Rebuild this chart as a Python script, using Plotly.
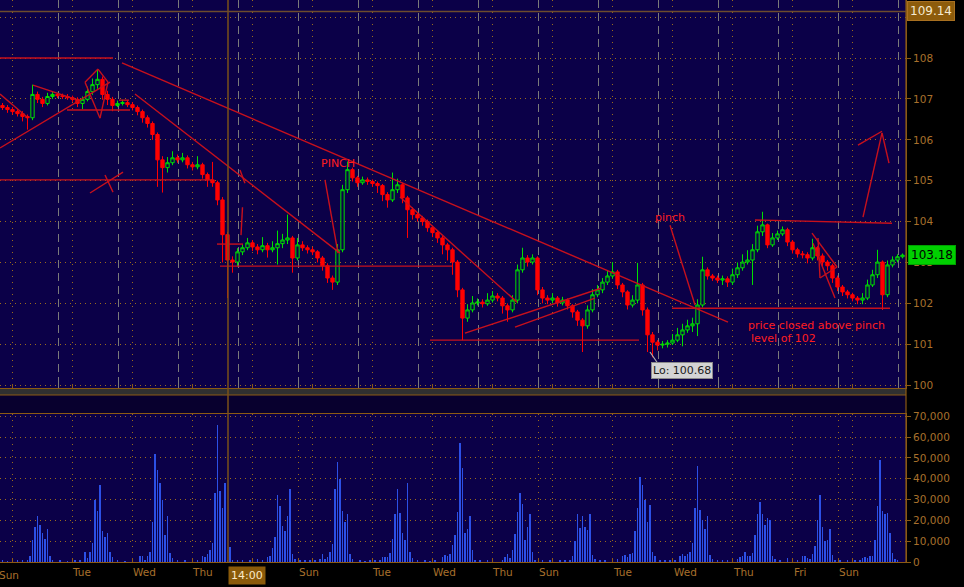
import plotly.graph_objects as go

# ---------------- data (2-hour candles, x in trading hours) ----------------
open_ = [
106.84,106.79,106.74,106.69,106.64,106.57,106.54,107.11,106.99,106.89,
107.06,107.11,107.08,107.06,107.03,106.99,106.89,106.99,107.18,107.35,
107.48,107.11,106.99,106.84,106.89,106.91,106.86,106.79,106.69,106.54,
106.40,106.13,105.51,105.32,105.44,105.56,105.51,105.56,105.39,105.34,
105.39,105.15,105.02,104.95,104.53,103.68,103.06,103.01,103.26,103.36,
103.48,103.38,103.31,103.41,103.31,103.36,103.46,103.55,103.60,103.11,
103.43,103.36,103.31,103.26,103.11,102.92,102.62,102.52,103.31,104.78,
105.27,105.07,104.95,105.02,104.98,104.93,104.88,104.66,104.53,104.78,
104.90,104.58,104.29,104.17,104.09,104.00,103.85,103.73,103.60,103.43,
103.31,103.01,102.33,101.64,101.84,102.01,102.03,101.99,102.08,102.18,
102.13,101.94,101.84,102.08,102.82,103.11,103.01,103.11,102.33,102.13,
102.08,102.13,102.01,102.08,101.94,101.79,101.59,101.45,101.84,102.21,
102.33,102.52,102.67,102.77,102.45,102.28,101.96,102.08,102.45,101.84,
101.23,101.05,100.98,101.00,101.03,101.10,101.23,101.35,101.45,101.50,
101.96,102.82,102.67,102.62,102.57,102.60,102.52,102.70,102.87,103.01,
103.06,103.31,103.75,103.92,103.43,103.60,103.70,103.80,103.50,103.31,
103.21,103.19,103.11,103.36,103.16,103.01,102.92,102.62,102.40,102.28,
102.21,102.13,102.08,102.13,102.45,102.70,103.01,102.21,102.94,103.06,
103.14]
close = [
106.79,106.74,106.69,106.64,106.57,106.54,107.11,106.99,106.89,107.06,
107.11,107.08,107.06,107.03,106.99,106.89,106.99,107.18,107.35,107.48,
107.11,106.99,106.84,106.89,106.91,106.86,106.79,106.69,106.54,106.40,
106.13,105.51,105.32,105.44,105.56,105.51,105.56,105.39,105.34,105.39,
105.15,105.02,104.95,104.53,103.68,103.06,103.01,103.26,103.36,103.48,
103.38,103.31,103.41,103.31,103.36,103.46,103.55,103.60,103.11,103.43,
103.36,103.31,103.26,103.11,102.92,102.62,102.52,103.31,104.78,105.27,
105.07,104.95,105.02,104.98,104.93,104.88,104.66,104.53,104.78,104.90,
104.58,104.29,104.17,104.09,104.00,103.85,103.73,103.60,103.43,103.31,
103.01,102.33,101.64,101.84,102.01,102.03,101.99,102.08,102.18,102.13,
101.94,101.84,102.08,102.82,103.11,103.01,103.11,102.33,102.13,102.08,
102.13,102.01,102.08,101.94,101.79,101.59,101.45,101.84,102.21,102.33,
102.52,102.67,102.77,102.45,102.28,101.96,102.08,102.45,101.84,101.23,
101.05,100.98,101.00,101.03,101.10,101.23,101.35,101.45,101.50,101.96,
102.82,102.67,102.62,102.57,102.60,102.52,102.70,102.87,103.01,103.06,
103.31,103.75,103.92,103.43,103.60,103.70,103.80,103.50,103.31,103.21,
103.19,103.11,103.36,103.16,103.01,102.92,102.62,102.40,102.28,102.21,
102.13,102.08,102.13,102.45,102.70,103.01,102.21,102.94,103.06,103.14,
103.18]
high = [
106.90,106.85,106.80,106.75,106.70,106.62,107.35,107.18,107.05,107.15,
107.18,107.15,107.13,107.12,107.08,107.04,107.06,107.30,107.50,107.72,
107.55,107.20,107.05,106.96,106.98,106.97,106.92,106.84,106.74,106.60,
106.45,106.18,105.60,105.58,105.72,105.64,105.68,105.62,105.46,105.60,
105.44,105.20,105.46,105.00,104.60,103.75,103.15,103.35,103.45,103.60,
103.55,103.45,103.62,103.48,103.52,103.78,103.70,104.17,103.65,103.60,
103.52,103.42,103.38,103.30,103.16,102.98,102.68,103.45,104.90,105.47,
105.32,105.12,105.10,105.08,105.03,104.98,104.92,104.72,105.20,105.05,
104.95,104.63,104.35,104.22,104.14,104.05,103.90,103.78,103.65,103.48,
103.36,103.06,102.38,101.98,102.18,102.12,102.10,102.25,102.30,102.25,
102.18,102.00,102.20,102.95,103.36,103.18,103.20,103.15,102.40,102.20,
102.25,102.18,102.16,102.12,101.98,101.84,101.64,101.95,102.35,102.45,
102.62,102.80,103.01,102.82,102.50,102.32,102.20,102.99,102.50,101.90,
101.30,101.10,101.08,101.10,101.25,101.40,101.50,101.60,101.65,102.10,
103.14,102.88,102.72,102.68,102.68,102.66,102.85,103.00,103.20,103.30,
103.45,103.90,104.24,103.95,103.72,103.78,103.88,103.85,103.55,103.36,
103.28,103.25,103.58,103.40,103.22,103.06,102.97,102.68,102.45,102.33,
102.26,102.18,102.25,102.58,102.82,103.31,103.05,103.05,103.15,103.20,
103.22]
low = [
106.73,106.66,106.62,106.57,106.45,106.25,106.48,106.90,106.80,106.84,
107.00,107.02,107.00,106.98,106.93,106.80,106.75,106.94,107.10,107.25,
106.98,106.85,106.70,106.80,106.84,106.80,106.72,106.60,106.42,106.30,
106.00,104.85,104.71,105.20,105.38,105.44,105.45,105.30,105.25,105.28,
105.05,104.85,104.85,104.40,103.00,102.13,102.75,102.90,103.18,103.30,
103.28,103.20,103.25,103.12,103.25,102.95,103.35,103.45,102.75,103.05,
103.28,103.22,103.18,103.00,102.80,102.50,102.33,102.45,103.25,104.70,
104.98,104.85,104.90,104.90,104.85,104.70,104.50,104.34,104.48,104.70,
104.45,103.60,104.05,104.00,103.90,103.75,103.62,103.48,103.20,103.05,
102.70,102.15,101.10,101.55,101.78,101.95,101.90,101.94,102.02,102.05,
101.75,101.55,101.78,102.00,102.75,102.90,102.95,102.20,102.00,101.98,
102.00,101.92,101.95,101.85,101.65,101.45,100.81,101.38,101.78,102.15,
102.25,102.45,102.60,102.35,102.15,101.85,101.90,102.00,101.70,100.81,
100.68,100.85,100.90,100.92,100.98,101.05,100.95,101.28,101.30,101.20,
101.90,102.58,102.55,102.50,102.45,102.40,102.45,102.62,102.80,102.95,
102.45,103.25,103.65,103.35,103.38,103.55,103.65,103.40,103.22,103.12,
103.10,102.98,103.05,103.05,102.90,102.80,102.50,102.30,102.18,102.12,
102.05,101.98,101.98,102.08,102.40,102.62,101.84,102.15,102.88,103.00,
103.10]
candle_hour = [2 * i + 1 for i in range(len(close))]

vol_hour = [
 1, 3, 5, 7, 9,
 11, 12, 13, 14, 15, 16, 17, 18, 19, 20,
 21, 24, 27, 30, 32,
 34, 35, 36, 37, 38, 39, 40, 41, 42, 43, 44, 45,
 47, 50, 53,
 56, 57, 58, 59, 60, 61, 62, 63, 64, 65, 66, 67, 68, 69,
 71, 74, 77, 79,
 81, 82, 83, 84, 85, 86, 87, 88, 89, 90, 91, 92, 93,
 95, 97, 100, 103, 105,
 107, 108, 109, 110, 111, 112, 113, 114, 115, 116, 117, 118,
 120, 122, 124, 126,
 128, 129, 130, 131, 132, 133, 134, 135, 136, 137, 138, 139, 140, 141,
 144, 146, 148, 150,
 152, 153, 154, 155, 156, 157, 158, 159, 160, 161, 162, 163, 164, 165,
 167, 170, 172, 174,
 177, 178, 179, 180, 181, 182, 183, 184, 185, 186, 187, 188, 189, 190,
 192, 195, 197,
 201, 202, 203, 204, 205, 206, 207, 208, 209, 210, 211, 212, 213, 214,
 217, 220, 224, 226,
 228, 229, 230, 231, 232, 233, 234, 235, 236, 237, 238,
 240, 242,
 245, 247, 249, 250, 251, 252, 253, 254, 255, 256, 257, 258, 259, 260, 261, 262,
 264, 266, 268, 270,
 272, 273, 274, 275, 276, 277, 278, 279, 280, 281, 282, 283, 284, 285,
 287, 289, 291, 293,
 295, 296, 297, 298, 299, 300, 301, 302, 303, 304, 305, 306, 307, 308, 309, 310,
 312, 315, 317, 319,
 321, 322, 323, 324, 325, 326, 327, 328, 329, 330, 331, 332, 333, 334,
 336, 339, 342, 344,
 345, 346, 347, 348, 349, 350, 351, 352, 353, 354, 355, 356, 357, 358, 359]
vol_k = [
 0.6, 0.4, 0.8, 0.5, 0.7,
 1, 3, 10.6, 17, 22, 18, 14, 11, 16, 3,
 1, 0.5, 0.4, 0.6, 0.8,
 5, 2, 5, 9, 30, 24.6, 37, 15, 12, 14, 5, 2.5,
 0.5, 0.4, 0.5,
 3, 3, 1, 3, 5, 19, 52, 44, 38, 30, 13, 22, 4.5, 2,
 0.5, 0.6, 0.4, 1,
 3, 2.5, 3.7, 6, 9, 33, 66, 34, 26, 38, 1, 7, 1,
 0.8, 1, 0.6, 1.3, 0.5,
 2.5, 3, 6.6, 12, 32, 27, 17.5, 15, 22, 35, 4, 1.3,
 0.6, 0.8, 0.5, 0.6,
 1.3, 4, 1.5, 2.2, 5, 8.7, 35, 48, 40, 24.6, 19, 23, 4, 1.5,
 0.5, 0.4, 0.8, 0.6,
 1, 2.2, 2.4, 2.2, 4.5, 11, 23, 35, 23.5, 14, 10.5, 38, 4.7, 2,
 0.5, 0.6, 0.4, 1,
 2.2, 3.4, 3, 3.8, 8, 13, 24, 57, 45, 14, 16, 22, 6, 1,
 0.5, 0.6, 1,
 1, 2.6, 4, 2, 6, 13.5, 24, 33, 28, 10.6, 17, 23, 5, 1,
 0.8, 0.5, 1, 0.6,
 1, 3, 10, 23, 16.5, 22, 17, 15.5, 23, 3.4, 1.5,
 0.6, 1,
 1.5, 1.5, 3, 3.4, 2.6, 4, 4.5, 15, 26, 41, 37, 30, 19, 27.5, 5, 3,
 0.8, 0.5, 1, 0.6,
 3, 3.8, 3, 3.8, 5, 9, 26, 46, 25, 20, 16, 22, 3.5, 1.5,
 0.5, 1, 0.6, 0.8,
 1.5, 2.6, 3, 4.7, 3, 3, 4.5, 13, 23, 29, 23, 18, 21, 20, 3, 1.5,
 0.6, 2, 1.5, 1,
 3, 3, 1.8, 1.3, 4, 7.7, 20, 32, 17, 10, 10.6, 16, 3.4, 1,
 0.5, 1, 0.6, 0.8,
 2, 2.3, 2, 3, 3, 10.5, 27, 49, 24.6, 23, 23.6, 14, 4.5, 1.5, 0.5]
volume = [v * 1000 for v in vol_k]

day_labels = ["Tue", "Wed", "Thu", "Sun", "Tue", "Wed", "Thu", "Sun", "Tue", "Wed", "Thu", "Fri", "Sun"]
day_hours = [28.8, 52.8, 76.8, 119.2, 148.8, 172.8, 196.8, 215.2, 245.2, 269.2, 293.2, 317.2, 335.2]
midnight_hours = [4.8 + 24 * k for k in range(15)]
vol_grid_hours = sorted(midnight_hours + [119.2, 215.2, 335.2])
price_ticks = list(range(100, 110))
volume_ticks = [0, 10000, 20000, 30000, 40000, 50000, 60000, 70000]

# hand-drawn trend lines (hour0, price0, hour1, price1)
drawings = [
    (0, 108.0, 45.2, 108.0), (48.8, 107.88, 291.2, 101.54), (0, 107.12, 10.8, 106.56),
    (0, 105.80, 44, 107.41), (13.2, 107.34, 31.2, 106.97), (34, 107.41, 39.2, 107.73),
    (39.2, 107.73, 43.2, 107.41), (43.2, 107.41, 40, 106.53), (34, 107.41, 40, 106.53),
    (26.8, 106.73, 52, 106.73), (47.6, 106.97, 51.6, 106.97), (54, 107.12, 136, 103.23),
    (0, 105.02, 85.2, 105.02), (36, 104.70, 49.2, 105.21), (42, 105.14, 45.2, 104.72),
    (96, 105.26, 98, 104.94), (97, 104.35, 96.4, 103.67), (86.8, 103.45, 97.2, 103.45),
    (88, 102.91, 180.8, 102.91), (130, 105.02, 135.2, 103.23), (160, 104.60, 206.8, 102.03),
    (186, 101.27, 240.4, 102.37), (206, 101.42, 238, 102.13), (172, 101.10, 255.6, 101.10),
    (268, 103.91, 278, 101.96), (268.8, 101.88, 356, 101.88), (302, 104.04, 356.8, 103.96),
    (324.8, 103.72, 334.8, 102.89), (327.2, 103.60, 328, 102.62), (328, 102.62, 334.8, 102.89),
    (325.2, 103.47, 334, 102.13), (343.2, 105.87, 352.8, 106.21), (345.2, 104.11, 352.8, 106.17),
    (352.8, 106.17, 355.6, 105.43),
]
last_price = 103.18
cursor_price = 109.14
cursor_hour = 91.2
low_price = 100.68

# ---------------- styling constants ----------------
W, H = 964, 587
XD = 906 / W
NAVY = "#0b0048"
BROWN = "#8c5a14"
TXT = "#a8702c"
DOT = "#9a6a1c"
RED_LINE = "#c8101c"
RED_TXT = "#ff1e1e"
FONT = "DejaVu Sans"
price_dom = [1 - 388 / H, 1]
vol_dom = [1 - 562 / H, 1 - 414 / H]

fig = go.Figure()
fig.add_trace(go.Candlestick(
    x=candle_hour, open=open_, high=high, low=low, close=close,
    increasing=dict(line=dict(color="#00e000", width=1), fillcolor=NAVY),
    decreasing=dict(line=dict(color="#ff0000", width=1), fillcolor="#ff0000"),
    whiskerwidth=0, hoverinfo="skip", xaxis="x", yaxis="y"))

dx, dy = [], []
for x0, y0, x1, y1 in drawings:
    dx += [x0, x1, None]
    dy += [y0, y1, None]
fig.add_trace(go.Scatter(x=dx, y=dy, mode="lines", line=dict(color=RED_LINE, width=1.4),
                         hoverinfo="skip", xaxis="x", yaxis="y"))
fig.add_trace(go.Scatter(x=[260, 262.8], y=[100.81, 100.56], mode="lines",
                         line=dict(color="#b0b0b0", width=1.2), hoverinfo="skip",
                         xaxis="x", yaxis="y"))

fig.add_trace(go.Bar(x=vol_hour, y=volume, width=0.4, marker=dict(color="#2c50e6", line=dict(width=0)),
                     hoverinfo="skip", xaxis="x2", yaxis="y2"))

fig.update_layout(
    width=W, height=H, margin=dict(l=0, r=0, t=0, b=0),
    paper_bgcolor="#000000", plot_bgcolor=NAVY, showlegend=False,
    font=dict(family=FONT, size=10, color=TXT), bargap=0, boxgap=0.05,
    xaxis=dict(domain=[0, XD], range=[0, 362.4], anchor="y", showticklabels=False,
               tickmode="linear", tick0=23.2, dtick=24, showgrid=True, gridcolor="#7a7a7a",
               griddash="8px,5px", gridwidth=1, ticks="inside", ticklen=4, tickcolor="#7a7a7a",
               minor=dict(tickmode="linear", tick0=4.8, dtick=24, showgrid=True, gridcolor=DOT,
                          griddash="1px,5px", ticks="inside", ticklen=4, tickcolor=BROWN),
               showline=True, linecolor=BROWN, zeroline=False,
               rangeslider=dict(visible=False), fixedrange=True),
    yaxis=dict(domain=price_dom, range=[99.93, 109.42], anchor="x", side="right",
               tickmode="array", tickvals=price_ticks, showgrid=True, gridcolor=DOT,
               griddash="1px,4px", ticks="outside", ticklen=4, tickcolor=BROWN,
               tickfont=dict(size=10.5, color=TXT), showline=True, linecolor=BROWN,
               zeroline=False, fixedrange=True, automargin=False),
    xaxis2=dict(domain=[0, XD], matches="x", anchor="y2", tickmode="array",
                tickvals=day_hours, ticktext=day_labels, ticklabelposition="outside right",
                ticks="outside", ticklen=6, tickcolor="rgba(0,0,0,0)", showgrid=False,
                tickfont=dict(size=10.5, color=TXT),
                minor=dict(tickmode="array", tickvals=vol_grid_hours, showgrid=True,
                           gridcolor=DOT, griddash="1px,5px", ticks="inside", ticklen=4,
                           tickcolor=BROWN),
                showline=True, linecolor=BROWN, mirror=True, zeroline=False,
                rangeslider=dict(visible=False), fixedrange=True),
    yaxis2=dict(domain=vol_dom, range=[0, 71150], anchor="x2", side="right",
                tickmode="array", tickvals=volume_ticks, tickformat=",",
                showgrid=True, gridcolor=DOT, griddash="1px,4px", ticks="outside",
                ticklen=4, tickcolor=BROWN, tickfont=dict(size=10.5, color=TXT),
                showline=True, linecolor=BROWN, zeroline=False, fixedrange=True,
                automargin=False),
)

shapes = [
    dict(type="rect", xref="paper", yref="paper", x0=0, x1=XD, y0=1 - 395 / H, y1=1 - 389 / H,
         fillcolor="#303030", line=dict(width=0), layer="above"),
    dict(type="rect", xref="paper", yref="paper", x0=0, x1=XD, y0=1 - 414 / H, y1=1 - 395 / H,
         fillcolor="#08002e", line=dict(width=0), layer="below"),
    dict(type="line", xref="paper", yref="paper", x0=0, x1=XD, y0=1 - 395 / H, y1=1 - 395 / H,
         line=dict(color=BROWN, width=1)),
    dict(type="line", xref="paper", yref="paper", x0=XD, x1=XD, y0=1 - 562 / H, y1=1,
         line=dict(color=BROWN, width=1.2)),
    dict(type="line", xref="x", yref="paper", x0=cursor_hour, x1=cursor_hour, y0=1 - 562 / H, y1=1,
         line=dict(color="#7a5018", width=1.5)),
    dict(type="line", xref="paper", yref="y", x0=0, x1=XD, y0=cursor_price, y1=cursor_price,
         line=dict(color="#6e4c2c", width=1.5)),
]
fig.update_layout(shapes=shapes)

ann = [
    dict(xref="paper", yref="paper", x=-3 / W, y=12 / H, text="Sun", showarrow=False,
         xanchor="left", yanchor="middle", font=dict(size=10.5, color=TXT)),
    dict(xref="x2", yref="paper", x=98.8, y=12 / H, text="14:00", showarrow=False,
         xanchor="center", yanchor="middle", bgcolor="#8a5a0a", borderpad=2,
         font=dict(size=11, color="#fbe9c8")),
    dict(xref="paper", yref="y", x=XD + 1 / W, y=cursor_price, text=f"{cursor_price:.2f}",
         showarrow=False, xanchor="left", yanchor="middle", bgcolor="#8d5c0c",
         bordercolor="#a87020", borderpad=2, font=dict(size=12, color="#f5ead0")),
    dict(xref="paper", yref="y", x=XD + 2 / W, y=last_price, text=f"{last_price:.2f}",
         showarrow=False, xanchor="left", yanchor="middle", bgcolor="#00d000",
         bordercolor="#00a000", borderpad=2, font=dict(size=12, color="#000000")),
    dict(xref="x", yref="y", x=272.8, y=100.37, text=f"Lo: {low_price:.2f}", showarrow=False,
         xanchor="center", yanchor="middle", bgcolor="#d4d4d4", bordercolor="#8a8a8a",
         borderpad=1, font=dict(size=11, color="#1a1a1a")),
    dict(xref="x", yref="y", x=135.2, y=105.41, text="PINCH", showarrow=False,
         xanchor="center", yanchor="middle", font=dict(size=11, color=RED_TXT)),
    dict(xref="x", yref="y", x=268, y=104.11, text="pinch", showarrow=False,
         xanchor="center", yanchor="middle", font=dict(size=11, color=RED_TXT)),
    dict(xref="x", yref="y", x=298.4, y=101.47, text="price closed above pinch", showarrow=False,
         xanchor="left", yanchor="middle", font=dict(size=11, color=RED_TXT)),
    dict(xref="x", yref="y", x=299.6, y=101.13, text="level of 102", showarrow=False,
         xanchor="left", yanchor="middle", font=dict(size=11, color=RED_TXT)),
]
fig.update_layout(annotations=ann)

fig.write_html("out.html", config={"displayModeBar": False},
               post_script="document.body.style.margin='0';document.body.style.overflow='hidden';")
